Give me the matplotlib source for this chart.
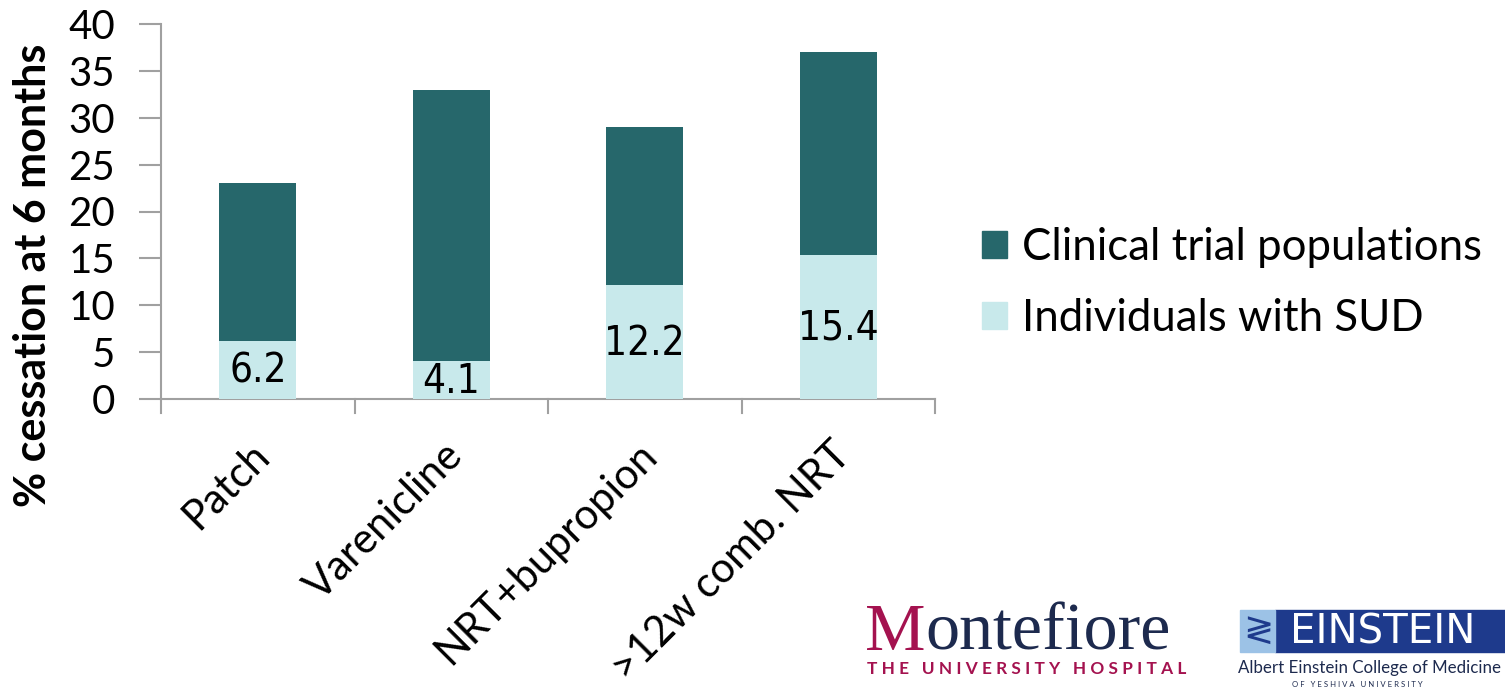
import matplotlib
matplotlib.use("Agg")
import matplotlib.pyplot as plt
from matplotlib.patches import Rectangle, Patch

categories = ["Patch", "Varenicline", "NRT+bupropion", ">12w comb. NRT"]
clinical_trial = [23, 33, 29, 37]
sud = [6.2, 4.1, 12.2, 15.4]
yticks = [0, 5, 10, 15, 20, 25, 30, 35, 40]

dark = "#26676b"
light = "#c8e9eb"
axis_gray = "#a0a0a0"
font = ["Lato", "DejaVu Sans"]

W, H = 1505, 692
fig = plt.figure(figsize=(W / 100, H / 100), dpi=100)
ax = fig.add_axes([161 / W, 1 - 399 / H, (935 - 161) / W, (399 - 24) / H])

x = list(range(len(categories)))
ax.bar(x, clinical_trial, width=0.40, color=dark, zorder=2)
ax.bar(x, sud, width=0.40, color=light, zorder=3)

# value labels centred inside the SUD bars
for xi, v in zip(x, sud):
    ax.text(xi, v / 2 - 0.2, f"{v}", ha="center", va="center", fontsize=29,
            family="DejaVu Sans", fontstretch="condensed", zorder=4)

ax.set_xlim(-0.5, len(categories) - 0.5)
ax.set_ylim(0, 40)
ax.set_yticks(yticks)
ax.set_yticklabels([str(t) for t in yticks], family=font, fontsize=29)
ax.set_xticks([])
for s in ["top", "right"]:
    ax.spines[s].set_visible(False)
for s in ["left", "bottom"]:
    ax.spines[s].set_color(axis_gray)
    ax.spines[s].set_linewidth(1.5)
ax.tick_params(axis="y", length=16, width=1.5, color=axis_gray, pad=17)

# category separator ticks below the baseline
for b in [-0.5, 0.5, 1.5, 2.5, 3.5]:
    ax.plot([b, b], [0, -1.5], color=axis_gray, lw=1.5, clip_on=False)

for xi, c in zip(x, categories):
    ax.text(xi - 0.04, -3.9, c, rotation=45, ha="right", va="top",
            rotation_mode="anchor", fontsize=30, family=font)

ax.set_ylabel("% cessation at 6 months", fontsize=31, fontweight="bold",
              family=font)
ax.yaxis.set_label_coords(-0.140, 0.33)

handles = [Patch(color=dark), Patch(color=light)]
fig.legend(handles, ["Clinical trial populations", "Individuals with SUD"],
           loc="center left", bbox_to_anchor=(982 / W, 1 - 283 / H), frameon=False,
           borderpad=0, borderaxespad=0,
           prop={"family": font, "size": 31.5}, handlelength=0.57, handleheight=0.57,
           handletextpad=0.35, labelspacing=0.7)

# institutional marks
crimson = "#a4124f"
navy = "#1d2a4e"
serif = ["Liberation Serif", "DejaVu Serif"]
m = fig.text(865 / W, 1 - 650 / H, "M", color=crimson, fontsize=49,
             family=serif, ha="left", va="baseline")
fig.canvas.draw()
m_box = m.get_window_extent()
fig.text(m_box.x1 / W, 1 - 650 / H, "ontefiore", color=navy, fontsize=49,
         family=serif, ha="left", va="baseline")
fig.text(867 / W, 1 - 674 / H, "T H E   U N I V E R S I T Y   H O S P I T A L",
         color=crimson, fontsize=12.4, fontweight="bold", family=font,
         ha="left", va="baseline")

fig.patches.append(Rectangle((1275 / W, 1 - 652 / H), (1505 - 1275) / W, 42 / H,
                             transform=fig.transFigure, color="#1e3a8c"))
fig.patches.append(Rectangle((1240 / W, 1 - 652 / H), 35 / W, 42 / H,
                             transform=fig.transFigure, color="#9cc2e6"))
fig.text(1258 / W, 1 - 631 / H, "≷", color="#1e3a8c", fontsize=26,
         ha="center", va="center")
fig.text(1290 / W, 1 - 632 / H, "EINSTEIN", color="white", fontsize=29,
         family="DejaVu Sans", ha="left", va="center")
fig.text(1238 / W, 1 - 673 / H, "Albert Einstein College of Medicine",
         color=navy, fontsize=12.2, family=font, ha="left", va="baseline")
fig.text(1292 / W, 1 - 687 / H, "O F   Y E S H I V A   U N I V E R S I T Y",
         color=navy, fontsize=5.6, family=font, ha="left", va="baseline")

fig.savefig("out.png", dpi=100, facecolor="white")
